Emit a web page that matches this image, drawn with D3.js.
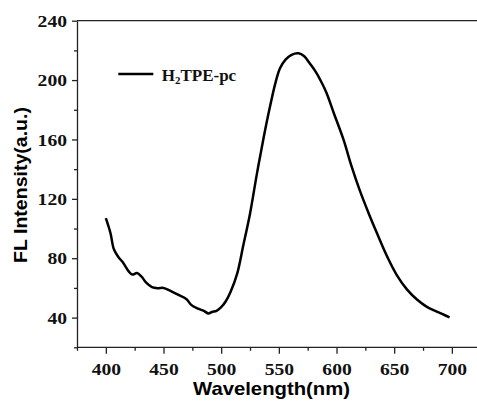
<!DOCTYPE html>
<html><head><meta charset="utf-8">
<script src="https://cdn.jsdelivr.net/npm/d3@7"></script>
<style>
html,body{margin:0;padding:0;background:#fff;}
svg{display:block;}
</style></head>
<body>
<svg id="chart" width="477" height="414"></svg>
<script>
const wavelengths = [400,404,407,411,415,420,423,427,431,435,440,445,450,456,463,470,474,480,485,489,492,496,500,504,508,514,519,525,531,537,542,547,551,556,561,567,572,577,582,586,591,598,606,613,620,628,635,644,652,661,670,678,687,698];
const intensities = [107,97,86,80.7,77,71,69,70,67.6,63.5,60.5,59.8,60,58,55.3,52.4,48.6,46,44.5,42.8,43.8,44.5,47,51,57,70,88,110,137,162,181,198,208,214,217,218,216,211,205.5,200,192,177,160,142,126,110,97,81,69,59,52,47.4,44,40.2];
const xTicks = [400,450,500,550,600,650,700];
const xMinor = [375,425,475,525,575,625,675];
const yTicks = [40,80,120,160,200,240];
const yMinor = [20,60,100,140,180,220];
const seriesName = "H";
const xTitle = "Wavelength(nm)";
const yTitle = "FL Intensity(a.u.)";

const svg = d3.select("#chart");
const x = d3.scaleLinear().domain([375,725]).range([77,480.7]);
const y = d3.scaleLinear().domain([20,240]).range([347.3,20.7]);

const axisColor = "#222";
svg.append("line").attr("x1",x(375)).attr("x2",477).attr("y1",y(240)).attr("y2",y(240))
  .attr("stroke",axisColor).attr("stroke-width",1.3);

const gx = svg.append("g").attr("transform",`translate(0,${y(20)})`);
gx.call(d3.axisBottom(x).tickValues(xTicks).tickSize(6.5).tickSizeOuter(0).tickPadding(9).tickFormat(d3.format("d")));
gx.append("g").call(d3.axisBottom(x).tickValues(xMinor).tickSize(3.5).tickFormat("")).select(".domain").remove();
gx.select(".domain").attr("d",`M${x(375)},0H477`);

const gy = svg.append("g").attr("transform",`translate(${x(375)},0)`);
gy.call(d3.axisLeft(y).tickValues(yTicks).tickSize(5).tickSizeOuter(0).tickPadding(5).tickFormat(d3.format("d")));
gy.append("g").call(d3.axisLeft(y).tickValues(yMinor).tickSize(3).tickFormat("")).select(".domain").remove();

svg.selectAll(".domain, .tick line").attr("stroke",axisColor).attr("stroke-width",1.3);
svg.selectAll(".tick text")
  .attr("font-family","'Liberation Serif','Times New Roman',serif")
  .attr("font-weight","bold").attr("font-size","17.5px").attr("fill","#111")
  .attr("textLength",function(){ return this.textContent.length*9.8; })
  .attr("lengthAdjust","spacingAndGlyphs");

const line = d3.line().x((d,i)=>x(wavelengths[i])).y((d,i)=>y(intensities[i])).curve(d3.curveCatmullRom.alpha(0.5));
svg.append("path").datum(intensities).attr("d",line).attr("fill","none")
  .attr("stroke","#000").attr("stroke-width",2.5).attr("stroke-linejoin","round");

svg.append("text").attr("x",271.5).attr("y",395).attr("text-anchor","middle")
  .attr("font-family","'Liberation Sans',Arial,sans-serif").attr("font-weight","bold").attr("font-size","18.5px")
  .attr("textLength",157).attr("lengthAdjust","spacingAndGlyphs").text(xTitle);
svg.append("text").attr("transform","translate(26.5,185) rotate(-90)").attr("text-anchor","middle")
  .attr("font-family","'Liberation Sans',Arial,sans-serif").attr("font-weight","bold").attr("font-size","18.5px")
  .attr("textLength",156).attr("lengthAdjust","spacingAndGlyphs").text(yTitle);

svg.append("line").attr("x1",118.3).attr("x2",153.3).attr("y1",74).attr("y2",74)
  .attr("stroke","#000").attr("stroke-width",2.5);
const lt = svg.append("text").attr("x",161.7).attr("y",80.7)
  .attr("font-family","'Liberation Serif','Times New Roman',serif").attr("font-weight","bold").attr("font-size","17px").attr("fill","#111");
lt.append("tspan").text(seriesName);
lt.append("tspan").attr("font-size","11px").attr("dy",3).text("2");
lt.append("tspan").attr("dy",-3).text("TPE-pc");
</script>
</body></html>
